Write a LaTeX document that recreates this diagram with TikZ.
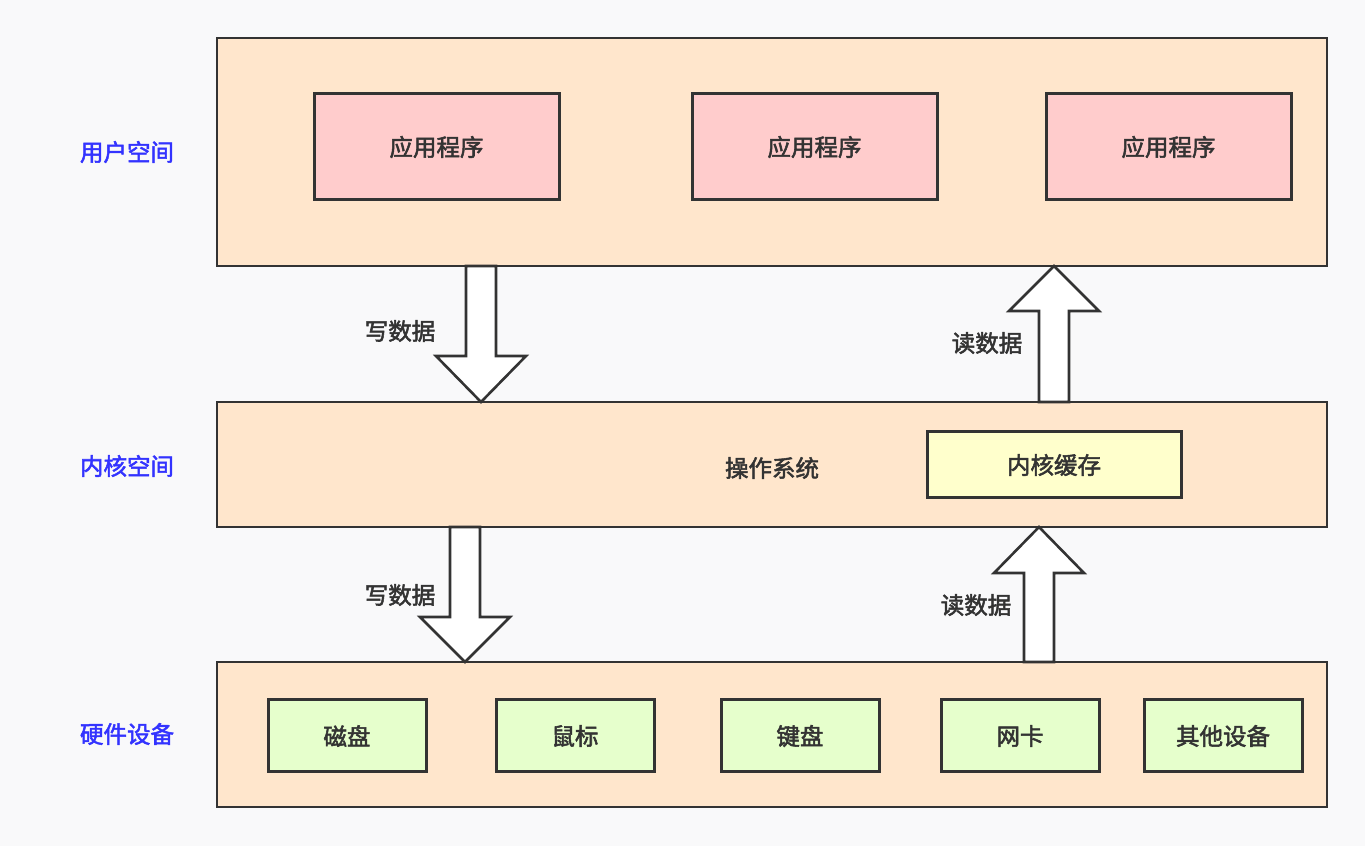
\documentclass[tikz,border=0pt]{standalone}
\usepackage{fontspec}
\setmainfont{Noto Sans CJK SC}
\newfontfamily\cjkmed{Noto Sans CJK SC}[FakeBold=2.2]
\definecolor{bgc}{HTML}{F9F9FA}
\definecolor{layer}{HTML}{FFE6CC}
\definecolor{appc}{HTML}{FFCCCC}
\definecolor{cachec}{HTML}{FFFFCC}
\definecolor{devc}{HTML}{E6FFCC}
\definecolor{edge}{HTML}{333333}
\definecolor{lbl}{HTML}{3333FF}
\begin{document}
\begin{tikzpicture}[x=1pt,y=-1pt,
  every node/.style={font=\cjkmed\fontsize{23.5}{26}\selectfont, text=edge, yshift=-1pt},
  layerbox/.style={draw=edge, line width=2.4pt, fill=layer},
  appbox/.style={draw=edge, line width=3pt, fill=appc},
  cachebox/.style={draw=edge, line width=3pt, fill=cachec},
  devbox/.style={draw=edge, line width=3pt, fill=devc},
  fatarrow/.style={draw=edge, line width=2.6pt, fill=white, line join=miter},
  sidelabel/.style={text=lbl}]
\fill[bgc] (0,0) rectangle (1365,846);
\useasboundingbox (0,0) rectangle (1365,846);
% layers
\draw[layerbox] (217,38) rectangle (1327,266);
\draw[layerbox] (217,402) rectangle (1327,527);
\draw[layerbox] (217,662) rectangle (1327,807);
\node[sidelabel] (lu) at (127,151) {用户空间};
\node[sidelabel] (lk) at (127,465) {内核空间};
\node[sidelabel] (lh) at (127,733) {硬件设备};
% apps
\draw[appbox] (314,93) rectangle node (a1) {应用程序} (559,199);
\draw[appbox] (692,93) rectangle node (a2) {应用程序} (937,199);
\draw[appbox] (1046,93) rectangle node (a3) {应用程序} (1291,199);
% kernel
\node (os) at (772,467) {操作系统};
\draw[cachebox] (927,431) rectangle node (kc) {内核缓存} (1181,497);
% devices
\draw[devbox] (268,699) rectangle node (d1) {磁盘} (426,771);
\draw[devbox] (496,699) rectangle node (d2) {鼠标} (654,771);
\draw[devbox] (721,699) rectangle node (d3) {键盘} (879,771);
\draw[devbox] (941,699) rectangle node (d4) {网卡} (1099,771);
\draw[devbox] (1144,699) rectangle node (d5) {其他设备} (1302,771);
% arrows
\draw[fatarrow] (466,266) -- (496,266) -- (496,356) -- (526,356) -- (481,402) -- (436,356) -- (466,356) -- cycle;
\draw[fatarrow] (1039,402) -- (1069,402) -- (1069,311) -- (1099,311) -- (1054,266) -- (1009,311) -- (1039,311) -- cycle;
\draw[fatarrow] (450,527) -- (480,527) -- (480,617) -- (510,617) -- (465,662) -- (420,617) -- (450,617) -- cycle;
\draw[fatarrow] (1024,662) -- (1054,662) -- (1054,573) -- (1084,573) -- (1039,527) -- (994,573) -- (1024,573) -- cycle;
\node (w1) at (400,330) {写数据};
\node (r1) at (987,342) {读数据};
\node (w2) at (400,594) {写数据};
\node (r2) at (976,604) {读数据};
\end{tikzpicture}
\end{document}
